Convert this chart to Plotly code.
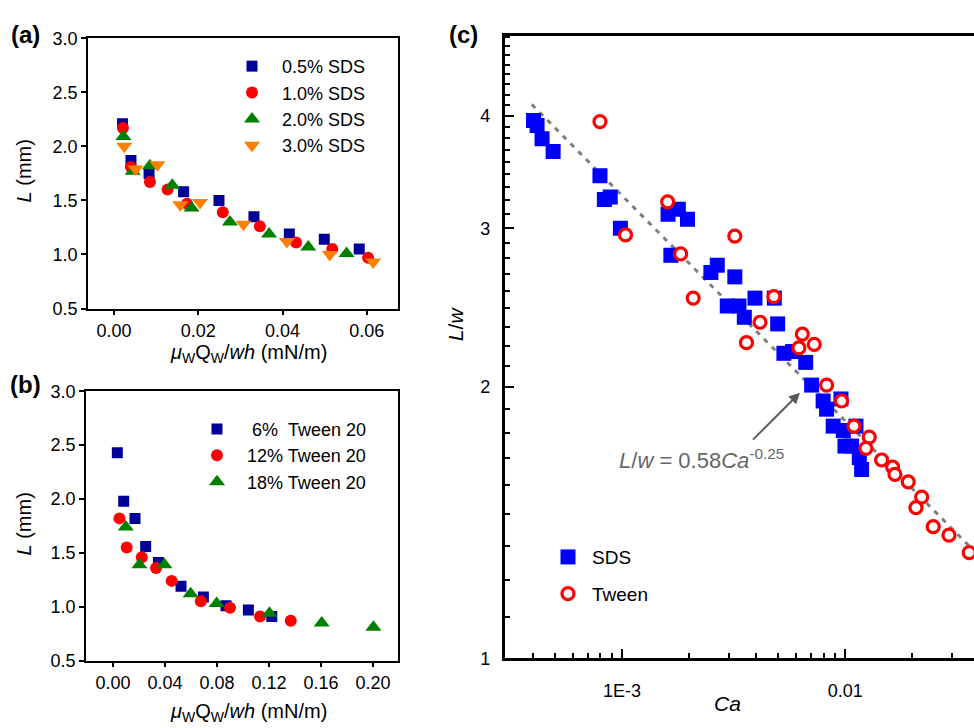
import plotly.graph_objects as go

# ---------------- (a) SDS solutions: L vs muW*QW/(w*h) ----------------
sds05_x = [0.0020, 0.0040, 0.0083, 0.0165, 0.0249, 0.0332, 0.0416, 0.0499, 0.0582]
sds05_y = [2.21, 1.87, 1.75, 1.58, 1.50, 1.35, 1.19, 1.14, 1.05]
sds10_x = [0.0021, 0.0040, 0.0085, 0.0127, 0.0173, 0.0258, 0.0346, 0.0432, 0.0518, 0.0603]
sds10_y = [2.17, 1.81, 1.67, 1.60, 1.47, 1.39, 1.26, 1.11, 1.05, 0.97]
sds20_x = [0.0022, 0.0044, 0.0085, 0.0138, 0.0184, 0.0275, 0.0368, 0.0461, 0.0552]
sds20_y = [2.09, 1.77, 1.82, 1.64, 1.43, 1.30, 1.19, 1.07, 1.01]
sds30_x = [0.0024, 0.0051, 0.0103, 0.0157, 0.0204, 0.0307, 0.0410, 0.0512, 0.0615]
sds30_y = [2.00, 1.79, 1.83, 1.46, 1.48, 1.28, 1.12, 1.00, 0.93]

# ---------------- (b) Tween 20 solutions ----------------
tw6_x = [0.0033, 0.0082, 0.0169, 0.0251, 0.0349, 0.0523, 0.0695, 0.0869, 0.1041, 0.1221]
tw6_y = [2.43, 1.98, 1.82, 1.56, 1.41, 1.19, 1.09, 1.01, 0.97, 0.91]
tw12_x = [0.0049, 0.0105, 0.0221, 0.0331, 0.0451, 0.0675, 0.0900, 0.1131, 0.1367]
tw12_y = [1.82, 1.55, 1.46, 1.36, 1.24, 1.05, 0.99, 0.91, 0.87]
tw18_x = [0.0098, 0.0203, 0.0395, 0.0597, 0.0797, 0.1203, 0.1605, 0.2003]
tw18_y = [1.74, 1.39, 1.39, 1.12, 1.03, 0.94, 0.85, 0.81]

# ---------------- (c) dimensionless length L/w vs capillary number Ca ----------------
sds_ca = [4.01e-4, 4.16e-4, 4.38e-4, 4.91e-4, 7.96e-4, 8.33e-4, 8.85e-4, 9.83e-4,
          1.607e-3, 1.787e-3, 1.964e-3, 1.654e-3, 2.50e-3, 2.67e-3, 3.20e-3, 2.96e-3,
          3.34e-3, 3.53e-3, 3.94e-3, 4.81e-3, 4.98e-3, 5.31e-3, 5.81e-3, 6.65e-3,
          7.07e-3, 7.96e-3, 8.25e-3, 9.57e-3, 8.83e-3, 9.80e-3, 1.117e-2, 9.97e-3,
          1.068e-2, 1.156e-2, 1.184e-2]
sds_lw = [3.95, 3.90, 3.77, 3.65, 3.43, 3.23, 3.25, 3.00,
          3.11, 3.15, 3.07, 2.80, 2.68, 2.73, 2.65, 2.46,
          2.46, 2.39, 2.51, 2.51, 2.35, 2.18, 2.19, 2.13,
          2.01, 1.93, 1.89, 1.94, 1.81, 1.79, 1.81, 1.72,
          1.72, 1.67, 1.62]
tween_ca = [7.96e-4, 1.036e-3, 1.60e-3, 3.20e-3, 1.83e-3, 2.083e-3, 4.79e-3, 4.15e-3,
            3.61e-3, 6.42e-3, 6.20e-3, 7.26e-3, 8.25e-3, 9.63e-3, 1.094e-2, 1.281e-2,
            1.238e-2, 1.456e-2, 1.631e-2, 1.67e-2, 1.916e-2, 2.20e-2, 2.075e-2, 2.48e-2,
            2.916e-2, 3.595e-2]
tween_lw = [3.94, 2.95, 3.21, 2.94, 2.81, 2.51, 2.52, 2.36,
            2.24, 2.29, 2.21, 2.23, 2.01, 1.93, 1.81, 1.76,
            1.71, 1.66, 1.63, 1.60, 1.57, 1.51, 1.47, 1.40,
            1.37, 1.31]

# power-law fit L/w = 0.58 Ca^-0.25
fit_coef = 0.58
fit_exp = -0.25
fit_ca = [3.94e-4, 0.05]
fit_lw = [fit_coef * c ** fit_exp for c in fit_ca]

FONT = "Liberation Sans, Arial, sans-serif"
W, H = 974, 728


def xdom(left, right):
    return [left / W, right / W]


def ydom(top, bottom):
    return [1 - bottom / H, 1 - top / H]


fig = go.Figure()

# ---- panel (a)
for xs, ys, name, sym, col, size in [
    (sds05_x, sds05_y, "0.5% SDS", "square", "#000099", 11),
    (sds10_x, sds10_y, "1.0% SDS", "circle", "#FF0000", 12),
    (sds20_x, sds20_y, "2.0% SDS", "triangle-up", "#008000", 14),
    (sds30_x, sds30_y, "3.0% SDS", "triangle-down", "#FF8000", 14),
]:
    fig.add_trace(go.Scatter(x=xs, y=ys, mode="markers", name=name,
                             marker=dict(symbol=sym, color=col, size=size, line=dict(width=0)),
                             xaxis="x", yaxis="y", legend="legend"))

# ---- panel (b)
for xs, ys, name, sym, col, size in [
    (tw6_x, tw6_y, "\u00a06%\u00a0\u00a0Tween 20", "square", "#000099", 11),
    (tw12_x, tw12_y, "12% Tween 20", "circle", "#FF0000", 12),
    (tw18_x, tw18_y, "18% Tween 20", "triangle-up", "#008000", 14),
]:
    fig.add_trace(go.Scatter(x=xs, y=ys, mode="markers", name=name,
                             marker=dict(symbol=sym, color=col, size=size, line=dict(width=0)),
                             xaxis="x2", yaxis="y2", legend="legend2"))

# ---- panel (c)
fig.add_trace(go.Scatter(x=fit_ca, y=fit_lw, mode="lines", showlegend=False,
                         line=dict(color="#808080", width=3, dash="5px,6px"),
                         xaxis="x3", yaxis="y3"))
fig.add_trace(go.Scatter(x=sds_ca, y=sds_lw, mode="markers", name="SDS",
                         marker=dict(symbol="square", color="#0000FF", size=15, line=dict(width=0)),
                         xaxis="x3", yaxis="y3", legend="legend3", legendgroup="sds"))
fig.add_trace(go.Scatter(x=tween_ca, y=tween_lw, mode="markers", name="Tween",
                         marker=dict(symbol="circle", color="white", size=12,
                                     line=dict(color="#FF0000", width=3.2)),
                         xaxis="x3", yaxis="y3", legend="legend3", legendgroup="tween"))

lin_common = dict(showgrid=False, zeroline=False, showline=True, linecolor="black",
                  linewidth=1.5, mirror=True, ticks="outside", ticklen=5, tickwidth=1.5,
                  tickcolor="black", tickfont=dict(size=18, color="black"))

# minor ticks on the log axes of panel (c)
y_minor = [n + k / 9 for n in range(1, 5) for k in range(1, 9)]
x_minor = [m * 10 ** e for e in (-4, -3, -2) for m in range(2, 10)]

fig.update_layout(
    width=W, height=H, autosize=False,
    margin=dict(l=0, r=0, t=0, b=0),
    paper_bgcolor="white", plot_bgcolor="white",
    font=dict(family=FONT, color="black"),
    xaxis=dict(domain=xdom(88, 398), range=[-0.0062, 0.0674], anchor="y",
               tick0=0, dtick=0.02, tickformat=".2f", **lin_common),
    yaxis=dict(domain=ydom(29, 307), range=[0.5, 3.0], anchor="x",
               tick0=0.5, dtick=0.5, tickformat=".1f", **lin_common),
    xaxis2=dict(domain=xdom(86, 398), range=[-0.0208, 0.2192], anchor="y2",
                tick0=0, dtick=0.04, tickformat=".2f", **lin_common),
    yaxis2=dict(domain=ydom(392, 669), range=[0.5, 3.0], anchor="x2",
                tick0=0.5, dtick=0.5, tickformat=".1f", **lin_common),
    xaxis3=dict(domain=xdom(504.7, 974), type="log", range=[-3.526, -1.423], anchor="y3",
                showgrid=False, zeroline=False, showline=True, linecolor="black",
                linewidth=2.5, mirror=True, ticks="inside", ticklen=10, tickwidth=2,
                tickcolor="black", tickmode="array", tickvals=[1e-3, 1e-2],
                ticktext=["1E-3", "0.01"], tickfont=dict(size=18, color="black"),
                ticklabelstandoff=14,
                minor=dict(ticks="inside", ticklen=6, tickwidth=2, tickcolor="black",
                           tickmode="array", tickvals=x_minor)),
    yaxis3=dict(domain=ydom(26.7, 666.7), type="log", range=[0, 0.6905], anchor="x3",
                showgrid=False, zeroline=False, showline=True, linecolor="black",
                linewidth=2.5, mirror=False, ticks="inside", ticklen=10, tickwidth=2,
                tickcolor="black", tickmode="array", tickvals=[1, 2, 3, 4],
                ticktext=["1", "2", "3", "4"], tickfont=dict(size=18, color="black"),
                ticklabelstandoff=8,
                minor=dict(ticks="inside", ticklen=6, tickwidth=2, tickcolor="black",
                           tickmode="array", tickvals=y_minor)),
    legend=dict(x=222 / W, y=1 - 39 / H, xanchor="left", yanchor="top",
                bgcolor="rgba(0,0,0,0)", font=dict(size=18), itemwidth=50,
                tracegroupgap=0),
    legend2=dict(x=187 / W, y=1 - 412 / H, xanchor="left", yanchor="top",
                 bgcolor="rgba(0,0,0,0)", font=dict(size=18), itemwidth=50,
                 tracegroupgap=0),
    legend3=dict(x=544 / W, y=1 - 543 / H, xanchor="left", yanchor="top",
                 bgcolor="rgba(0,0,0,0)", font=dict(size=19), itemwidth=38,
                 traceorder="grouped", tracegroupgap=9),
)

xtitle = "<i>\u03bc</i><sub>W</sub>Q<sub>W</sub>/<i>wh</i> (mN/m)"
annotations = [
    # panel labels
    dict(text="<b>(a)</b>", x=25 / W, y=1 - 25 / H, font=dict(size=24)),
    dict(text="<b>(b)</b>", x=25 / W, y=1 - 385 / H, font=dict(size=24)),
    dict(text="<b>(c)</b>", x=463 / W, y=1 - 25 / H, font=dict(size=24)),
    # axis titles
    dict(text="<i>L</i> (mm)", x=24 / W, y=1 - 166 / H, textangle=-90, font=dict(size=20)),
    dict(text="<i>L</i> (mm)", x=24 / W, y=1 - 529 / H, textangle=-90, font=dict(size=20)),
    dict(text=xtitle, x=248 / W, y=1 - 353 / H, font=dict(size=20)),
    dict(text=xtitle, x=248 / W, y=1 - 722 / H, font=dict(size=20)),
    dict(text="<i>Ca</i>", x=727 / W, y=1 - 713 / H, font=dict(size=21)),
    dict(text="<i>L</i>/<i>w</i>", x=455 / W, y=1 - 323 / H, textangle=-90, font=dict(size=21)),
]
for a in annotations:
    a.update(xref="paper", yref="paper", showarrow=False, xanchor="center", yanchor="middle")

# fit label with arrow pointing to the fitted line
annotations.append(dict(text="", xref="x3", yref="y3", x=-2.203, y=0.2948,
                        axref="x3", ayref="y3", ax=-2.42, ay=0.241,
                        showarrow=True, arrowhead=2, arrowsize=1.1, arrowwidth=2,
                        arrowcolor="#595959"))
annotations.append(dict(text="<i>L</i>/<i>w</i> = 0.58<i>Ca</i><sup>-0.25</sup>",
                        xref="x3", yref="y3", x=-2.645, y=0.2208, showarrow=False,
                        font=dict(size=22, color="#666666"), xanchor="center", yanchor="middle"))
fig.update_layout(annotations=annotations)

fig.write_html("out.html")
